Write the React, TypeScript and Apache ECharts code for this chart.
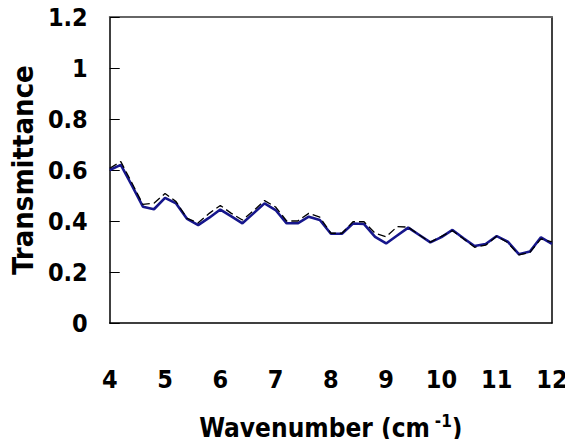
import React, { useEffect, useRef } from "react";
import * as echarts from "echarts";

const wavenumbers = [
  4.0, 4.2, 4.4, 4.6, 4.8, 5.0, 5.2, 5.4, 5.6, 5.8,
  6.0, 6.2, 6.4, 6.6, 6.8, 7.0, 7.2, 7.4, 7.6, 7.8,
  8.0, 8.2, 8.4, 8.6, 8.8, 9.0, 9.2, 9.4, 9.6, 9.8,
  10.0, 10.2, 10.4, 10.6, 10.8, 11.0, 11.2, 11.4, 11.6, 11.8, 12.0,
];

const measured = [
  0.6, 0.62, 0.54, 0.456, 0.446, 0.491, 0.469, 0.408, 0.384, 0.413,
  0.445, 0.418, 0.391, 0.43, 0.469, 0.443, 0.391, 0.391, 0.417, 0.404,
  0.35, 0.35, 0.39, 0.388, 0.338, 0.312, 0.343, 0.374, 0.345, 0.316,
  0.337, 0.365, 0.332, 0.302, 0.31, 0.341, 0.319, 0.27, 0.28, 0.336, 0.31,
];

const calculated = [
  0.607, 0.633, 0.55, 0.465, 0.47, 0.508, 0.476, 0.41, 0.393, 0.43,
  0.461, 0.43, 0.404, 0.44, 0.48, 0.455, 0.4, 0.4, 0.43, 0.415,
  0.352, 0.352, 0.397, 0.397, 0.352, 0.338, 0.378, 0.376, 0.345, 0.317,
  0.34, 0.362, 0.33, 0.297, 0.305, 0.34, 0.315, 0.267, 0.277, 0.33, 0.318,
];

const yTicks = { min: 0, max: 1.2, interval: 0.2 };
const xTicks = { min: 4, max: 12, interval: 1 };

const FONT = "'DejaVu Sans Condensed', 'DejaVu Sans', sans-serif";

export default function App() {
  const ref = useRef<HTMLDivElement>(null);

  useEffect(() => {
    if (!ref.current) return;
    const chart = echarts.init(ref.current, undefined, { renderer: "svg" });
    const pairs = (ys: number[]) => wavenumbers.map((x, i) => [x, ys[i]]);
    chart.setOption({
      animation: false,
      backgroundColor: "#ffffff",
      grid: { left: 107, right: 21, top: 17, bottom: 124, containLabel: false },
      xAxis: [
        {
          type: "value",
          min: xTicks.min,
          max: xTicks.max,
          interval: xTicks.interval,
          position: "bottom",
          axisLine: { show: true, onZero: false, lineStyle: { color: "#000", width: 1.5 } },
          axisTick: { show: false },
          splitLine: { show: false },
          axisLabel: {
            margin: 44,
            color: "#000",
            fontFamily: FONT,
            fontWeight: "bold",
            fontSize: 25,
          },
          name: "Wavenumber (cm{sup|-1})",
          nameLocation: "middle",
          nameGap: 89,
          nameTextStyle: {
            color: "#000",
            fontFamily: FONT,
            fontWeight: "bold",
            fontSize: 26,
            rich: {
              sup: {
                fontFamily: FONT,
                fontWeight: "bold",
                fontSize: 17,
                color: "#000",
                verticalAlign: "bottom",
                padding: [0, 0, 14, 5],
              },
            },
          },
        },
        {
          type: "value",
          min: xTicks.min,
          max: xTicks.max,
          interval: xTicks.interval,
          position: "top",
          axisLine: { show: true, onZero: false, lineStyle: { color: "#666", width: 2 } },
          axisTick: { show: false },
          axisLabel: { show: false },
          splitLine: { show: false },
        },
      ],
      yAxis: [
        {
          type: "value",
          min: yTicks.min,
          max: yTicks.max,
          interval: yTicks.interval,
          axisLine: { show: true, lineStyle: { color: "#000", width: 1.5 } },
          axisTick: { show: true, inside: true, length: 10, lineStyle: { color: "#000", width: 1 } },
          splitLine: { show: false },
          axisLabel: {
            margin: 22,
            color: "#000",
            fontFamily: FONT,
            fontWeight: "bold",
            fontSize: 25,
          },
          name: "Transmittance",
          nameLocation: "middle",
          nameGap: 71,
          nameTextStyle: {
            color: "#000",
            fontFamily: FONT,
            fontWeight: "bold",
            fontSize: 29,
          },
        },
        {
          type: "value",
          min: yTicks.min,
          max: yTicks.max,
          interval: yTicks.interval,
          position: "right",
          axisLine: { show: true, lineStyle: { color: "#000", width: 1.5 } },
          axisTick: { show: false },
          axisLabel: { show: false },
          splitLine: { show: false },
        },
      ],
      series: [
        {
          name: "measured",
          type: "line",
          data: pairs(measured),
          showSymbol: false,
          symbol: "none",
          lineStyle: { color: "#16168c", width: 2.6 },
          z: 2,
        },
        {
          name: "calculated",
          type: "line",
          data: pairs(calculated),
          showSymbol: false,
          symbol: "none",
          lineStyle: { color: "#000", width: 1.3, type: [8, 4] },
          z: 3,
        },
      ],
    });
    return () => chart.dispose();
  }, []);

  return <div ref={ref} style={{ width: 573, height: 447, margin: -8 }} />;
}
